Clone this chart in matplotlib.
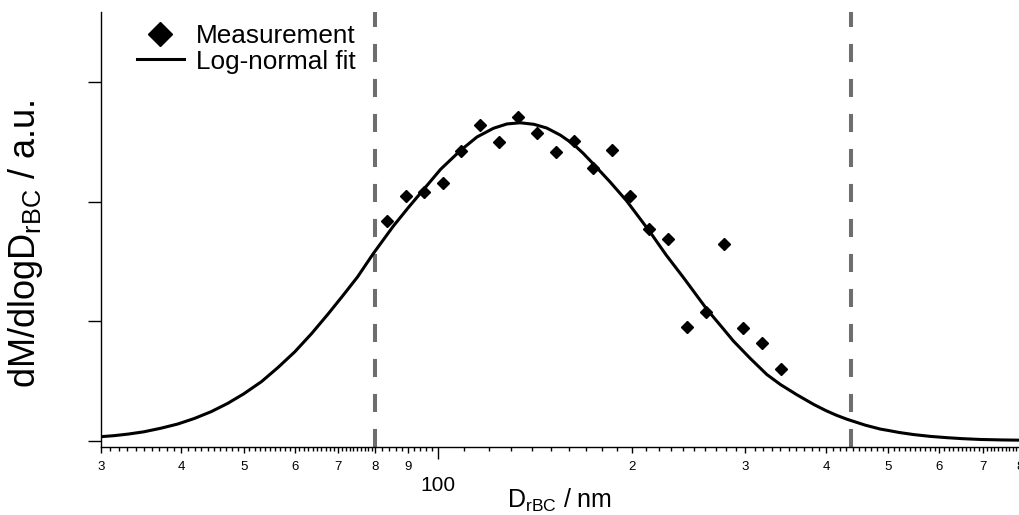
import matplotlib
matplotlib.use("Agg")
import matplotlib.pyplot as plt
from matplotlib.lines import Line2D
from matplotlib.ticker import FixedLocator, FixedFormatter, NullLocator

plt.rcParams["font.family"] = ["Liberation Sans", "DejaVu Sans"]
plt.rcParams["mathtext.default"] = "regular"

d_meas = [83.4, 89.2, 95.2, 101.8, 108.6, 116.3, 124.6, 133.4, 142.6, 152.5, 162.9,
          174.3, 186.2, 198.8, 213.0, 227.4, 243.4, 260.3, 278.1, 297.3, 318.2, 340.1]
m_meas = [1.840, 2.047, 2.083, 2.153, 2.423, 2.640, 2.495, 2.709, 2.571, 2.412, 2.509,
          2.283, 2.431, 2.049, 1.774, 1.685, 0.955, 1.075, 1.648, 0.942, 0.821, 0.601]

# log-normal fit curve, sampled along the drawn line
d_fit = [30.0, 31.5, 33.1, 35.0, 37.2, 39.5, 41.9, 44.5, 47.2, 50.0, 53.3, 56.5,
         60.0, 63.7, 67.6, 71.3, 75.1, 79.4, 85.3, 90.0, 95.0, 101.0, 108.3, 115.0,
         122.0, 128.0, 134.2, 141.0, 147.6, 155.0, 162.3, 168.0, 174.3, 185.0, 196.4,
         213.5, 226.0, 240.5, 261.5, 275.0, 287.5, 305.0, 324.0, 340.0, 360.7, 382.8,
         400.0, 415.0, 431.2, 460.0, 485.6, 500.0, 520.0, 547.0, 580.0, 616.1, 650.0,
         694.1, 750.0, 800.0]
m_fit = [0.036, 0.045, 0.058, 0.077, 0.107, 0.142, 0.188, 0.245, 0.314, 0.394, 0.497, 0.614,
         0.745, 0.897, 1.062, 1.217, 1.372, 1.565, 1.795, 1.950, 2.100, 2.270, 2.425, 2.540,
         2.613, 2.649, 2.659, 2.646, 2.615, 2.555, 2.480, 2.405, 2.315, 2.165, 2.005,
         1.745, 1.555, 1.365, 1.100, 0.960, 0.835, 0.692, 0.555, 0.472, 0.386, 0.306,
         0.254, 0.216, 0.182, 0.133, 0.100, 0.088, 0.071, 0.054, 0.039, 0.028, 0.020,
         0.013, 0.009, 0.007]

# detection range limits
cut_diameters = [80, 437]

x_limits = (30, 800)
y_limits = (-0.05, 3.587)
y_ticks = [0, 1, 2, 3]
labeled_ticks = [30, 40, 50, 60, 70, 80, 90, 200, 300, 400, 500, 600, 700, 800]
labeled_text = ["3", "4", "5", "6", "7", "8", "9", "2", "3", "4", "5", "6", "7", "8"]

fine_ticks = ([d for d in range(31, 80) if d % 10 != 0]
              + [82, 84, 86, 88, 92, 94, 96, 98]
              + [d for d in range(110, 800, 10) if d % 100 != 0])

fig = plt.figure(figsize=(10.2, 5.15), dpi=100)
ax = fig.add_axes([100.7 / 1020, 68 / 515, 919.3 / 1020, 435.3 / 515])

ax.set_xscale("log")
ax.set_xlim(*x_limits)
ax.set_ylim(*y_limits)

dash_lw = 2.9
for d in cut_diameters:
    ax.axvline(d, color="#6e6e6e", lw=dash_lw,
               linestyle=(0, (13.0 / dash_lw, 12.2 / dash_lw)), zorder=1)

ax.plot(d_fit, m_fit, color="black", lw=2.2, zorder=2, solid_joinstyle="round")
ax.plot(d_meas, m_meas, linestyle="none", marker="D", ms=5.8,
        color="black", zorder=3)

for side in ("top", "right"):
    ax.spines[side].set_visible(False)
for side in ("left", "bottom"):
    ax.spines[side].set_linewidth(1.0)

ax.xaxis.set_major_locator(FixedLocator([100]))
ax.xaxis.set_major_formatter(FixedFormatter(["100"]))
ax.xaxis.set_minor_locator(FixedLocator(labeled_ticks))
ax.xaxis.set_minor_formatter(FixedFormatter(labeled_text))
ax.tick_params(axis="x", which="major", direction="out", length=8.6, width=1.0,
               labelsize=15, pad=12)
ax.tick_params(axis="x", which="minor", direction="out", length=4.3, width=1.0,
               labelsize=9.5, pad=5.5)

ax.set_yticks(y_ticks)
ax.set_yticklabels([])
ax.yaxis.set_minor_locator(NullLocator())
ax.tick_params(axis="y", which="major", direction="out", length=9.4, width=1.0)

# finer unlabeled ticks along the log axis
ax2 = ax.twiny()
ax2.set_xscale("log")
ax2.set_xlim(*x_limits)
ax2.xaxis.set_ticks_position("bottom")
ax2.xaxis.set_major_locator(FixedLocator(fine_ticks))
ax2.xaxis.set_minor_locator(NullLocator())
ax2.set_xticklabels([])
ax2.tick_params(axis="x", which="major", direction="out", length=2.9, width=1.0)
for s in ax2.spines.values():
    s.set_visible(False)

fig.text(560 / 1020, 7 / 515, "D$_{rBC}$ / nm", fontsize=18, ha="center", va="baseline")
fig.text(26 / 1020, (515 - 244) / 515, "dM/dlogD$_{rBC}$ / a.u.", fontsize=26,
         rotation=90, ha="center", va="center")

handles = [
    Line2D([], [], linestyle="none", marker="D", ms=12.2, color="black"),
    Line2D([], [], color="black", lw=2.2),
]
ax.legend(handles, ["Measurement", "Log-normal fit"], loc="upper left",
          bbox_to_anchor=(137 / 1020, 1 - 24 / 515), bbox_transform=fig.transFigure,
          frameon=False, fontsize=18.8, handlelength=1.8, handletextpad=0.46,
          labelspacing=0.06, borderpad=0, borderaxespad=0)

fig.savefig("out.png", dpi=100)
